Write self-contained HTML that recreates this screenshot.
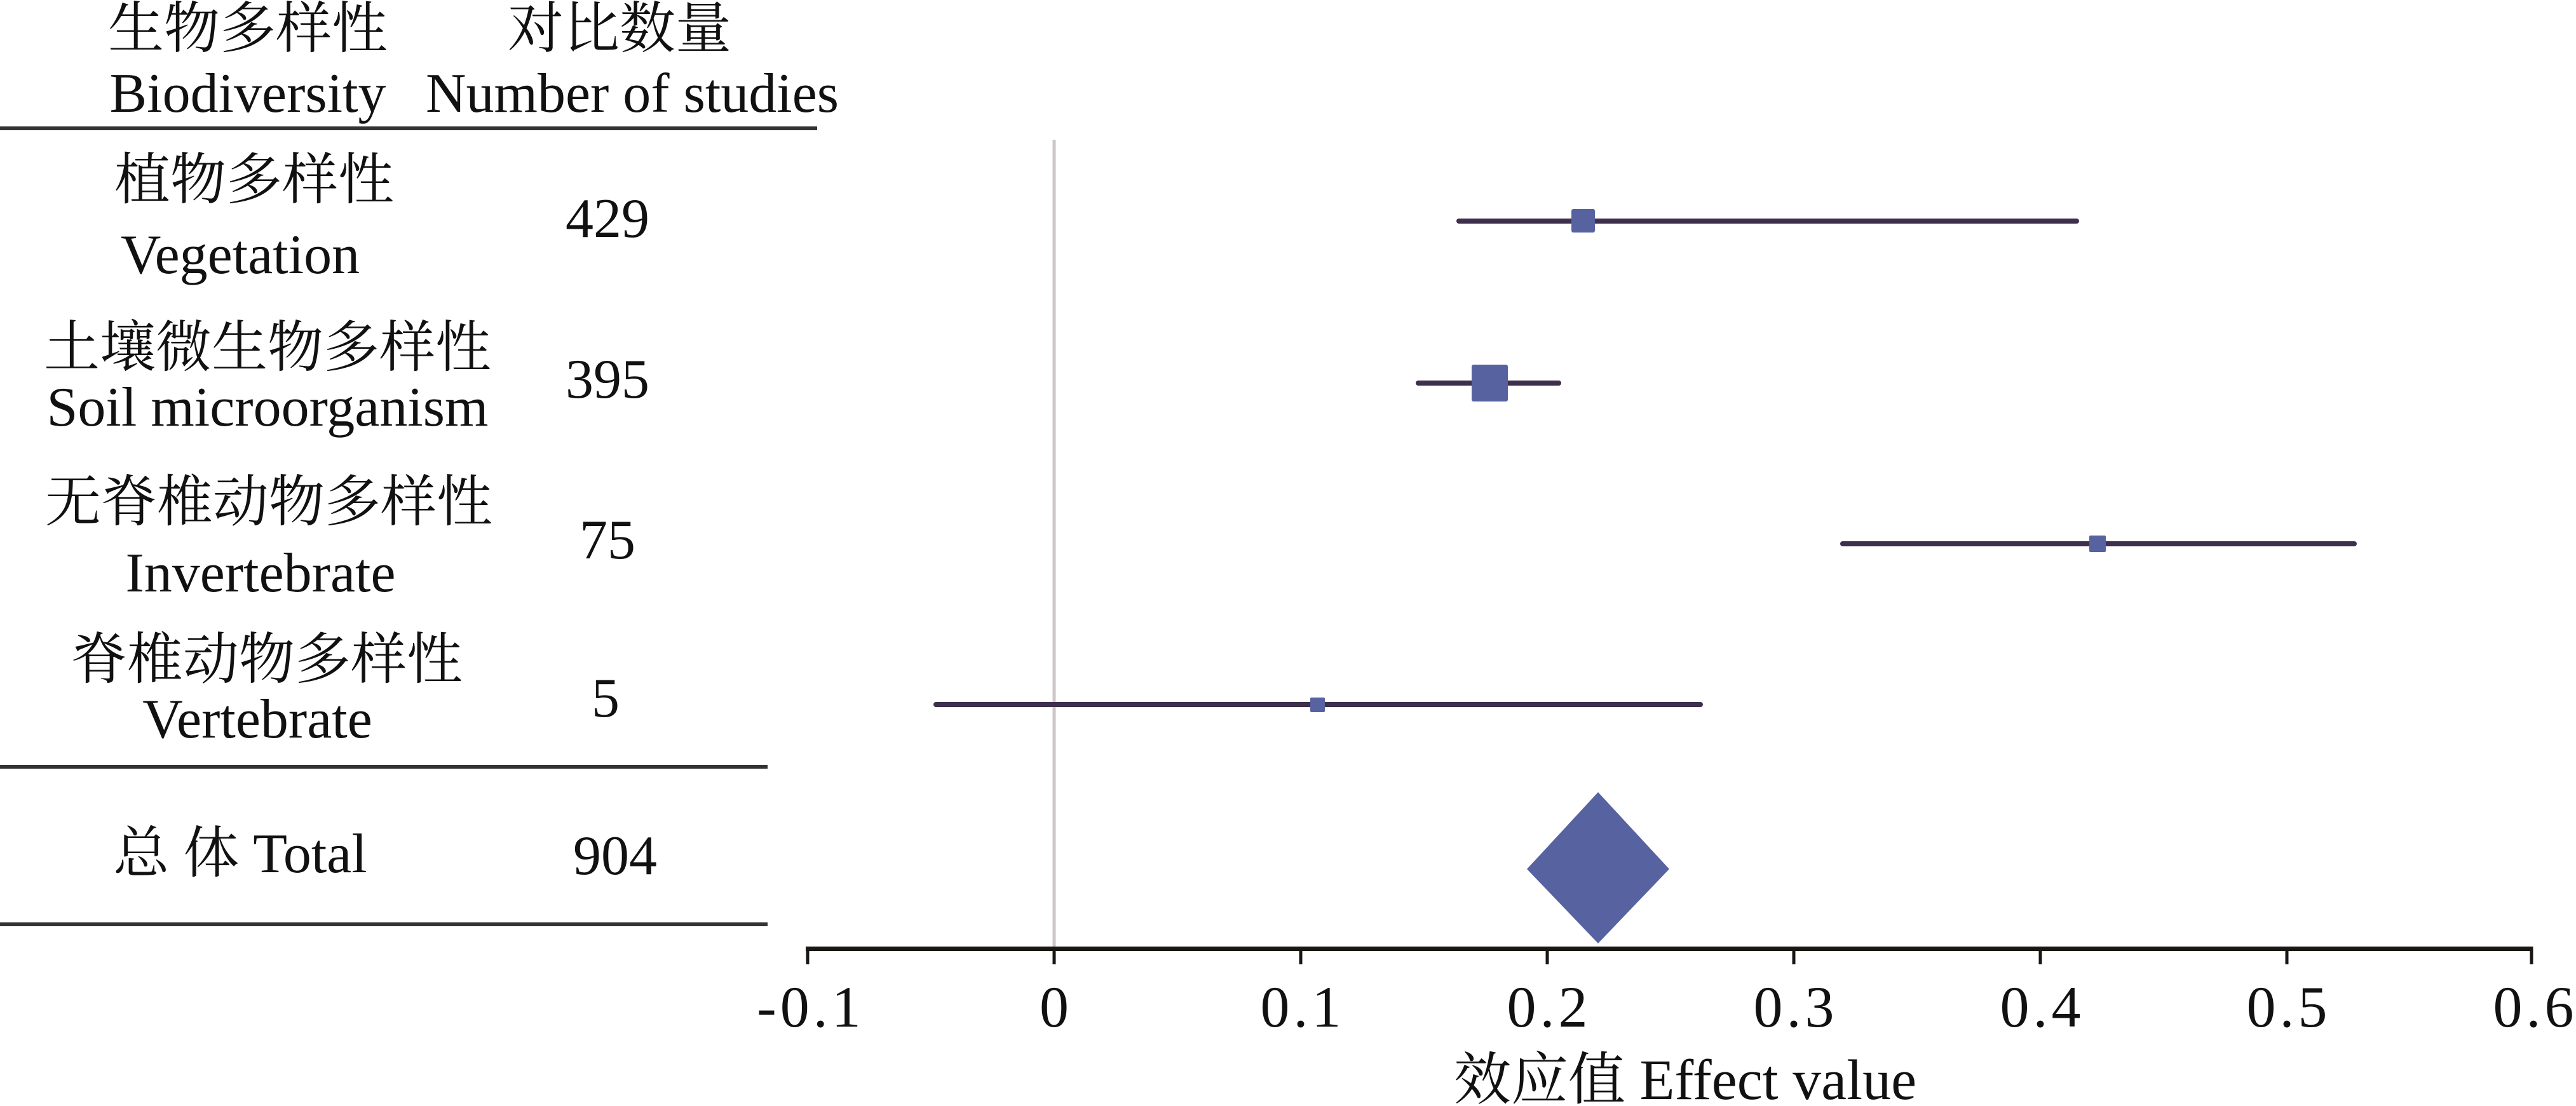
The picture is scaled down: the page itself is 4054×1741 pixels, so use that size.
<!DOCTYPE html>
<html><head><meta charset="utf-8"><style>
html,body{margin:0;padding:0;background:#fff;}
svg{display:block}
text{font-family:"Liberation Serif","Noto Serif CJK SC",serif;fill:#111;}
</style></head><body>
<svg width="4054" height="1741" viewBox="0 0 4054 1741" xmlns="http://www.w3.org/2000/svg">
<g font-size="88" text-anchor="middle">
<text x="390" y="75">生物多样性</text>
<text x="390" y="176">Biodiversity</text>
<text x="975" y="75">对比数量</text>
<text x="995" y="176">Number of studies</text>
<text x="400" y="313">植物多样性</text>
<text x="378" y="430">Vegetation</text>
<text x="956" y="373">429</text>
<text x="421" y="577">土壤微生物多样性</text>
<text x="421" y="670">Soil microorganism</text>
<text x="956" y="626">395</text>
<text x="423" y="820">无脊椎动物多样性</text>
<text x="410" y="931">Invertebrate</text>
<text x="956" y="879">75</text>
<text x="420" y="1068">脊椎动物多样性</text>
<text x="405" y="1161">Vertebrate</text>
<text x="953" y="1128">5</text>
<text x="378" y="1373">总 体 Total</text>
<text x="968" y="1376">904</text>
</g>
<rect x="0" y="199" width="1286" height="6" fill="#333"/>
<rect x="0" y="1204" width="1208" height="6" fill="#333"/>
<rect x="0" y="1452" width="1208" height="6" fill="#333"/>
<line x1="1659" y1="220" x2="1659" y2="1491" stroke="#cfc6c8" stroke-width="5"/>
<g stroke="#3e2f4c" stroke-width="8" stroke-linecap="round">
<line x1="2296" y1="348" x2="3268" y2="348"/>
<line x1="2232" y1="603" x2="2453" y2="603"/>
<line x1="2900" y1="856" x2="3705" y2="856"/>
<line x1="1473" y1="1109" x2="2676" y2="1109"/>
</g>
<g fill="#5762a0">
<rect x="2473" y="329" width="37" height="37" rx="3"/>
<rect x="2316" y="574" width="57" height="58" rx="3"/>
<rect x="3288" y="843" width="26" height="26" rx="2"/>
<rect x="2062" y="1098" width="23" height="23" rx="2"/>
<polygon points="2515,1247 2627,1368 2515,1485 2403,1368"/>
</g>
<rect x="1268" y="1490" width="2718" height="7" fill="#1a1713"/>
<g stroke="#1a1713" stroke-width="5">
<line x1="1271" y1="1490" x2="1271" y2="1518"/>
<line x1="1659" y1="1490" x2="1659" y2="1518"/>
<line x1="2047" y1="1490" x2="2047" y2="1518"/>
<line x1="2435" y1="1490" x2="2435" y2="1518"/>
<line x1="2823" y1="1490" x2="2823" y2="1518"/>
<line x1="3211" y1="1490" x2="3211" y2="1518"/>
<line x1="3599" y1="1490" x2="3599" y2="1518"/>
<line x1="3984" y1="1490" x2="3984" y2="1518"/>
</g>
<g font-size="92" text-anchor="middle" letter-spacing="6">
<text x="1276" y="1616">-0.1</text>
<text x="1662" y="1616">0</text>
<text x="2050" y="1616">0.1</text>
<text x="2438" y="1616">0.2</text>
<text x="2826" y="1616">0.3</text>
<text x="3214" y="1616">0.4</text>
<text x="3602" y="1616">0.5</text>
<text x="3990" y="1616">0.6</text>
</g>
<text x="2652" y="1730" font-size="90" text-anchor="middle">效应值 Effect value</text>
</svg>
</body></html>
